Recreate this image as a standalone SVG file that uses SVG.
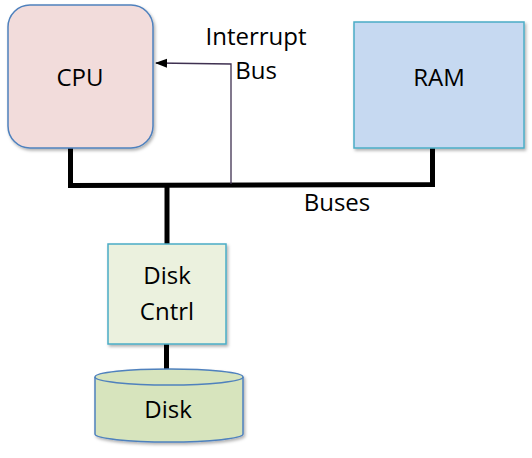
<svg xmlns="http://www.w3.org/2000/svg" width="532" height="458" viewBox="0 0 532 458">
<defs>
<style>
text{font-family:"Open Sans","Liberation Sans",sans-serif;font-size:24px;fill:#000;text-anchor:middle}
.bus{stroke:#000;stroke-width:5;fill:none;stroke-linecap:square}
</style>
<filter id="sh" x="-10%" y="-10%" width="130%" height="130%">
<feDropShadow dx="1.5" dy="2" stdDeviation="1.5" flood-color="#000" flood-opacity="0.3"/>
</filter>
<marker id="arr" viewBox="0 0 12 10" refX="11" refY="5" markerWidth="12" markerHeight="10" markerUnits="userSpaceOnUse" orient="auto">
<path d="M0,0.5 L12,5 L0,9.5 z" fill="#000"/>
</marker>
</defs>
<g id="connectors">
<polyline class="bus" points="70.5,150 70.5,185.5 432.5,184.5 432.5,150"/>
<line class="bus" x1="167" y1="186" x2="167" y2="243"/>
<line class="bus" x1="166.5" y1="345" x2="166.5" y2="368"/>
<polyline points="231,184 231,64 156,63" fill="none" stroke="#3f3151" stroke-width="1.3" marker-end="url(#arr)"/>
<text x="256" y="45">Interrupt</text>
<text x="256" y="79">Bus</text>
<text x="337" y="211">Buses</text>
</g>
<g id="cpu">
<rect x="8" y="5" width="145" height="143" rx="22" fill="#f2dcdb" stroke="#4f81bd" stroke-width="1.5" filter="url(#sh)"/>
<text x="80" y="86">CPU</text>
</g>
<g id="ram">
<rect x="354" y="22" width="170" height="126" fill="#c6d9f1" stroke="#4bacc6" stroke-width="1.5" filter="url(#sh)"/>
<text x="439" y="86">RAM</text>
</g>
<g id="diskcntrl">
<rect x="108" y="244" width="118" height="100" fill="#ebf1de" stroke="#4bacc6" stroke-width="1.5" filter="url(#sh)"/>
<text x="167" y="284">Disk</text>
<text x="167" y="320">Cntrl</text>
</g>
<g id="disk">
<path d="M95,377 L95,434 A74,8 0 0 0 243,434 L243,377 A74,8 0 0 0 95,377 z" fill="#d7e4bd" stroke="#4f81bd" stroke-width="1.5" filter="url(#sh)"/>
<path d="M95,377 A74,8 0 0 0 243,377" fill="none" stroke="#4f81bd" stroke-width="1.5"/>
<text x="168" y="418">Disk</text>
</g>
</svg>
